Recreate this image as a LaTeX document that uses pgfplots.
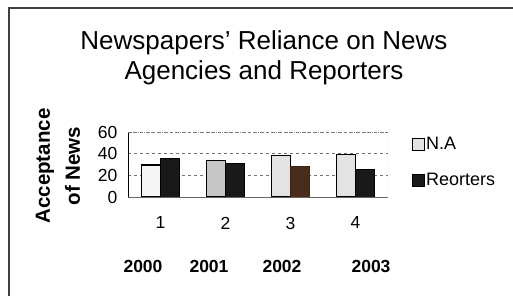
\documentclass[border=0pt]{standalone}
\usepackage{fontspec}
\setmainfont{Liberation Sans}
\usepackage{pgfplots}
\pgfplotsset{compat=1.18}
\definecolor{brownbar}{RGB}{74,44,28}
\begin{document}
\begin{tikzpicture}
\useasboundingbox (0pt,0pt) rectangle (513pt,296pt);
\fill[white] (0pt,0pt) rectangle (513pt,296pt);
\draw[line width=1.2pt, black!75] (9pt,0pt) -- (9pt,288pt) -- (513pt,288pt);
% title
\node[font=\fontsize{26}{30}\selectfont, align=center, anchor=center] at (264pt,238pt)
  {Newspapers' Reliance on News\\Agencies and Reporters};
% y label
\node[font=\fontsize{20.5}{30}\bfseries, align=center, rotate=90, anchor=center] at (58pt,130pt)
  {Acceptance\\of News};
\begin{axis}[
  at={(128pt,99pt)}, anchor=south west,
  scale only axis, width=260pt, height=65pt,
  xmin=0.5, xmax=4.5, ymin=0, ymax=60,
  xtick={1,2,3,4}, xticklabels={1,2,3,4},
  ytick={0,20,40,60},
  axis x line=bottom, axis y line=left,
  axis line style={-, line width=0.9pt, black},
  x axis line style={black!60, line width=0.6pt},
  xtick style={draw=none}, ytick style={draw=none},
  ymajorgrids, grid style={dashed, black!55, line width=0.5pt},
  /pgf/number format/assume math mode=true,
  tick label style={font=\fontsize{17.5}{20}\selectfont},
  yticklabel style={xshift=-5pt},
  xticklabel style={yshift=-12pt},
  ybar, bar width=19pt,
  legend style={at={(1.09,0.95)}, anchor=north west, draw=none, fill=none,
    font=\fontsize{18}{21}\selectfont, row sep=18pt,
    legend cell align=left, inner sep=0pt},
  legend image code/.code={\draw[#1, line width=0.6pt] (0pt,-6pt) rectangle (12pt,6pt);},
]
\addplot[bar shift=-9.5pt, fill=gray!22, draw=black, line width=1.2pt]
  coordinates {(1,29.5) (2,33.5) (3,38) (4,39)};
\addlegendentry{N.A}
\addplot[bar shift=9.5pt, fill=black!90, draw=black, line width=0.6pt]
  coordinates {(1,35.5) (2,31) (3,28) (4,25.5)};
\addlegendentry{Reorters}
\addplot[forget plot, bar shift=-9.5pt, fill=gray!8, draw=black, line width=1.2pt]
  coordinates {(1,29.5)};
\addplot[forget plot, bar shift=-9.5pt, fill=gray!45, draw=black, line width=1.2pt]
  coordinates {(2,33.5)};
\addplot[forget plot, bar shift=9.5pt, fill=brownbar, draw=brownbar!80!black, line width=0.6pt]
  coordinates {(3,28)};
\draw[dotted, black!50, line width=0.6pt] (axis cs:0.5,60) -- (axis cs:4.5,60) -- (axis cs:4.5,0);
\end{axis}
% year labels
\foreach \x/\t in {143/2000, 209/2001, 282/2002, 371/2003}
  \node[font=\fontsize{17.5}{20}\bfseries, anchor=center] at (\x pt,30pt) {\t};
\end{tikzpicture}
\end{document}
